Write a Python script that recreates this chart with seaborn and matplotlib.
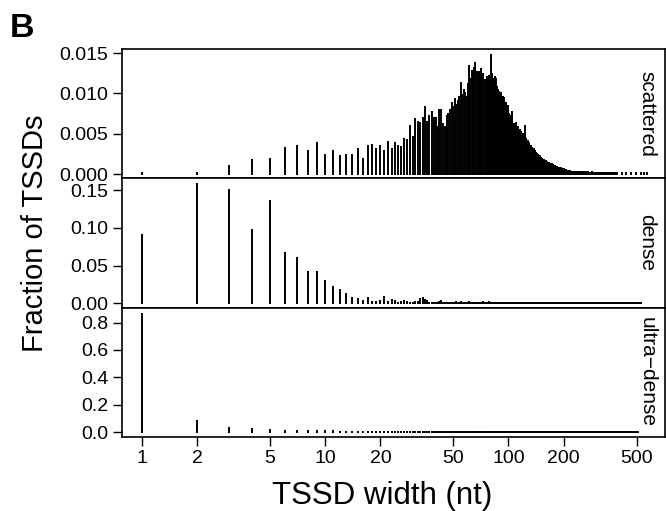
import numpy as np
import matplotlib
matplotlib.use("Agg")
import matplotlib.pyplot as plt
from matplotlib.ticker import NullLocator, FixedLocator, FixedFormatter, FormatStrFormatter
import seaborn as sns

# fraction of TSSDs at each width 1, 2, 3, ... (values in units of 1e-4)
scattered_e4 = [
    1, 1, 10, 18, 19, 32, 35, 29, 39, 24,
    28, 22, 24, 24, 31, 19, 35, 36, 31, 35,
    29, 40, 31, 39, 35, 34, 44, 42, 59, 46,
    68, 65, 63, 69, 83, 65, 72, 77, 69, 70,
    58, 79, 80, 62, 58, 72, 74, 80, 88, 83,
    93, 86, 90, 96, 113, 98, 104, 100, 96, 112,
    134, 118, 128, 125, 132, 138, 126, 124, 127, 122,
    130, 118, 124, 117, 112, 120, 115, 122, 118, 148,
    124, 118, 114, 120, 112, 118, 108, 104, 102, 98,
    100, 92, 96, 90, 94, 86, 88, 80, 84, 76,
    74, 70, 72, 77, 64, 59, 62, 60, 56, 63,
    58, 58, 54, 52, 55, 50, 52, 48, 46, 50,
    44, 47, 59, 42, 44, 40, 41, 36, 38, 36,
    34, 35, 31, 32, 30, 29, 31, 27, 28, 26,
    26, 24, 25, 22, 24, 21, 20, 22, 19, 20,
    18, 19, 19, 17, 18, 17, 16, 16, 15, 16,
    15, 14, 15, 14, 14, 13, 14, 13, 12, 12,
    12, 11, 12, 11, 10, 11, 10, 10, 9, 10,
    9, 9, 9, 8, 9, 8, 8, 7, 8, 7,
    7, 7, 6, 7, 6, 6, 6, 6, 5, 6,
    5, 5, 5, 5, 4, 5, 4, 4, 4, 4,
    4, 4, 4, 3, 4, 4, 3, 3, 3, 3,
    3, 3, 3, 3, 2, 3, 3, 2, 3, 2,
    2, 3, 2, 2, 2, 2, 3, 2, 2, 2,
    2, 2, 2, 1, 2, 2, 2, 1, 2, 2,
    1, 2, 1, 1, 2, 1, 1, 1, 2, 1, 1, 1, 1, 2, 1, 1, 1, 1, 1, 1,
    1, 1, 2, 1, 1, 1, 1, 1, 1, 1, 1, 1, 1, 1, 1, 2, 1, 1, 1, 1,
    1, 1, 1, 1, 1, 1, 0, 1, 1, 1, 1, 1, 1, 1, 1, 0, 1, 1, 1, 1,
    1, 1, 0, 1, 1, 1, 1, 1, 0, 1, 1, 1, 1, 0, 1, 1, 1, 1, 1, 0,
    1, 1, 1, 0, 1, 1, 0, 1, 1, 1, 1, 0, 1, 1, 1, 0, 1, 1, 0, 1,
    1, 1, 0, 1, 1, 0, 1, 1, 1, 0, 1, 0, 1, 1, 0, 1, 1, 0, 1, 1,
    1, 0, 1, 1, 0, 1, 0, 1, 0, 0, 1, 0, 0, 0, 1, 0, 0, 1, 1, 0,
    0, 0, 0, 0, 0, 0, 0, 0, 0, 0, 0, 0, 0, 0, 0, 0, 0, 0, 0, 0,
    0, 0, 0, 1, 1, 1, 0, 0, 0, 0, 0, 0, 0, 0, 0, 0, 0, 0, 0, 0,
    0, 0, 0, 0, 0, 0, 0, 0, 1, 1, 0, 0, 0, 0, 0, 0, 0, 0, 0, 0,
    0, 0, 0, 0, 0, 0, 0, 0, 0, 0, 0, 0, 0, 0, 0, 1, 1, 0, 0, 0,
    0, 0, 0, 0, 0, 0, 0, 0, 0, 0, 0, 0, 0, 0, 0, 0, 0, 0, 0, 0,
    0, 0, 0, 0, 0, 1, 1, 0, 0, 0, 0, 0, 0, 0, 0, 0, 0, 0, 0, 0,
    0, 0, 0, 0, 0, 0, 0, 0, 0, 0, 0, 0, 0, 0, 0, 0, 0, 0, 0, 1,
    0, 0, 0, 0, 0, 0, 0, 0, 0, 0, 0, 0, 0, 0, 0, 1, 0, 0, 0, 0,
    0, 0, 0, 0, 0, 0, 0, 0, 0, 0, 0, 0, 0, 0, 0, 0, 1,
]

dense_e4 = [
    900, 1580, 1500, 966, 1350, 660, 600, 420, 420, 300,
    210, 180, 128, 66, 58, 30, 66, 20, 20, 30,
    90, 15, 40, 35, 10, 20, 35, 15, 10, 10,
    15, 20, 60, 70, 45, 30, 10, 10, 8, 8,
    10, 12, 25, 10, 8, 8, 6, 6, 5, 6,
    8, 20, 8, 6, 18, 6, 5, 5, 5, 5,
    15, 5, 4, 4, 4, 4, 4, 4, 3, 4,
    4, 4, 12, 4, 3, 3, 3, 12, 3, 3,
    3, 3, 3, 3, 3, 2, 3, 3, 2, 3,
    2, 3, 2, 2, 3, 2, 2, 2, 3, 2,
    2, 2, 1, 2, 2, 2, 1, 2, 2, 1, 2, 2, 1, 2, 1, 2, 2, 1, 2, 1,
    2, 1, 2, 1, 2, 1, 1, 2, 1, 2, 1, 2, 1, 1, 2, 1, 2, 1, 1, 2,
    1, 1, 2, 1, 1, 2, 1, 1, 1, 2, 1, 1, 2, 1, 1, 1, 2, 1, 1, 1,
    1, 2, 1, 1, 1, 1, 2, 1, 1, 1, 1, 1, 2, 1, 1, 1, 1, 1, 2, 1,
    1, 1, 1, 1, 2, 1, 1, 1, 1, 1, 1, 2, 1, 1, 1, 1, 1, 1, 1, 2,
    1, 1, 1, 1, 1, 1, 2, 1, 1, 1, 1, 1, 1, 1, 1, 1, 1, 2, 1, 1,
    1, 1, 1, 1, 1, 1, 1, 1, 1, 1, 2, 1, 1, 1, 1, 1, 1, 1, 1, 1,
    1, 1, 1, 1, 1, 1, 1, 1, 2, 1, 1, 1, 1, 1, 1, 1, 1, 1, 1, 1,
    1, 1, 1, 1, 1, 1, 1, 1, 1, 1, 1, 1, 1, 1, 1, 1, 1, 1, 1, 1,
    1, 1, 1, 1, 1, 1, 1, 1, 1, 1, 1, 1, 1, 1, 1, 1, 1, 1, 1, 1,
    1, 1, 1, 1, 1, 1, 1, 1, 1, 1, 1, 1, 1, 1, 1, 1, 1, 1, 1, 1,
    1, 1, 1, 1, 1, 1, 1, 1, 1, 1, 1, 1, 1, 1, 1, 1, 1, 1, 1, 1,
    1, 1, 1, 1, 1, 1, 1, 1, 1, 1, 1, 1, 1, 1, 1, 1, 1, 1, 1, 1,
    1, 1, 1, 1, 1, 1, 1, 1, 1, 1, 1, 1, 1, 1, 1, 1, 1, 1, 1, 1,
    1, 1, 1, 1, 1, 1, 1, 1, 1, 1, 1, 1, 1, 1, 1, 1, 1, 1, 1, 1,
    1, 1, 1, 1, 1, 1, 1, 1, 1, 1, 1, 1, 1, 1, 1, 1, 1, 1, 1, 1,
    1, 1, 1, 1, 1, 1, 1, 1, 1, 1, 1, 1, 1, 1, 1, 1, 1, 1, 1, 1,
    1, 1, 1, 1, 1, 1, 1, 1, 1, 1, 1, 1, 1, 1, 1, 1, 1, 1, 1, 1,
    1, 1, 1, 1, 1, 1, 1, 1, 1, 1, 1, 1, 1, 1, 1, 1, 1, 1, 1, 1,
    1, 1, 1, 1, 1, 1, 1, 1, 1, 1, 1, 1, 1, 1, 1, 1, 1, 1, 1, 1,
    1, 1, 1, 1, 1, 1, 1, 1, 1, 1, 1, 1, 1, 1, 1, 1, 1, 1, 1, 1,
    1, 1, 1, 1, 1, 1, 1,
]

ultra_dense_e4 = [
    8650, 780, 280, 230, 160, 100, 80, 70, 60, 50,
    45, 42, 38, 35, 33, 30, 28, 26, 25, 24,
    22, 21, 20, 19, 18, 17, 16, 15, 15, 14,
    13, 13, 12, 12, 11, 11, 10, 10, 9, 9,
    9, 8, 8, 8, 7, 7, 7, 7, 6, 6,
    6, 6, 6, 5, 5, 5, 5, 5, 5, 4,
    4, 4, 4, 4, 4, 4, 4, 3, 3, 3,
    3, 3, 3, 3, 3, 3, 3, 3, 3, 3,
    2, 3, 2, 3, 2, 2, 3, 2, 2, 2,
    2, 2, 2, 2, 2, 2, 2, 2, 2, 2,
    2, 2, 2, 2, 2, 2, 2, 2, 2, 2, 2, 2, 2, 2, 2, 2, 2, 2, 2, 2,
    2, 2, 2, 2, 2, 2, 2, 2, 2, 2, 1, 2, 2, 2, 2, 2, 2, 2, 2, 2,
    2, 2, 1, 2, 2, 2, 2, 1, 2, 2, 2, 2, 2, 1, 2, 2, 2, 2, 1, 2,
    2, 1, 2, 2, 1, 2, 2, 1, 2, 2, 1, 2, 2, 1, 2, 1, 2, 1, 2, 1,
    2, 1, 2, 1, 1, 2, 1, 2, 1, 1, 2, 1, 1, 2, 1, 1, 2, 1, 1, 1,
    2, 1, 1, 1, 1, 2, 1, 1, 1, 1, 1, 2, 1, 1, 1, 1, 1, 1, 2, 1,
    1, 1, 1, 1, 1, 1, 1, 2, 1, 1, 1, 1, 1, 1, 1, 1, 1, 1, 1, 1,
    1, 1, 1, 1, 1, 1, 1, 1, 1, 1, 1, 1, 1, 1, 1, 1, 1, 1, 1, 1,
    1, 1, 1, 1, 1, 1, 1, 1, 1, 1, 1, 1, 1, 1, 1, 1, 1, 1, 1, 1,
    1, 1, 1, 1, 1, 1, 1, 1, 1, 1, 1, 1, 1, 1, 1, 1, 1, 1, 1, 1,
    1, 1, 1, 1, 1, 1, 1, 1, 1, 1, 1, 1, 1, 1, 1, 1, 1, 1, 1, 1,
    1, 1, 1, 1, 1, 1, 1, 1, 1, 1, 1, 1, 1, 1, 1, 1, 1, 1, 1, 1,
    1, 1, 1, 1, 1, 1, 1, 1, 1, 1, 1, 1, 1, 1, 1, 1, 1, 1, 1, 1,
    1, 1, 1, 1, 1, 1, 1, 1, 1, 1, 1, 1, 1, 1, 1, 1, 1, 1, 1, 1,
    1, 1, 1, 1, 1, 1, 1, 1, 1, 1, 1, 1, 1, 1, 1, 1, 1, 1, 1, 1,
    1, 1, 1, 1, 1, 1, 1, 1, 1, 1, 1, 1, 1, 1, 1, 1, 1, 1, 1, 1,
    1, 1, 1, 1, 1, 1, 1, 1, 1, 1, 1, 1, 1, 1, 1, 1, 1, 1, 1, 1,
    1, 1, 1, 1, 1, 1, 1, 1, 1, 1, 1, 1, 1, 1, 1, 1, 1, 1, 1, 1,
    1, 1, 1, 1, 1, 1, 1, 1, 1, 1, 1, 1, 1, 1, 1, 1, 1, 1, 1, 1,
    1, 1, 1, 1, 1, 1, 1, 1, 1, 1, 1, 1, 1, 1, 1, 1, 1, 1, 1, 1,
    1, 1, 1, 1, 1, 1, 1,
]

panel_names = ["scattered", "dense", "ultra\u2212dense"]
panel_series = [scattered_e4, dense_e4, ultra_dense_e4]
y_ticks = [[0.0, 0.005, 0.010, 0.015], [0.0, 0.05, 0.10, 0.15], [0.0, 0.2, 0.4, 0.6, 0.8]]
y_formats = ["%.3f", "%.2f", "%.1f"]
y_limits = [(-0.00053, 0.0155), (-0.0058, 0.1655), (-0.036, 0.909)]
x_ticks = [1, 2, 5, 10, 20, 50, 100, 200, 500]

sns.set_theme(style="ticks", rc={
    "axes.edgecolor": "black",
    "axes.linewidth": 1.2,
    "xtick.color": "black",
    "ytick.color": "black",
    "text.color": "black",
})
plt.rcParams["font.family"] = ["Liberation Sans", "DejaVu Sans"]

W, H = 666, 511
fig = plt.figure(figsize=(W / 100, H / 100), dpi=100)

top_px, bottom_px = 49, 437
panel_h = (bottom_px - top_px) / 3
bar_lw = 1.4                        # points
cap_px = bar_lw * 100 / 72 / 2      # half line width, like R's round line ends

for i, (name, series) in enumerate(zip(panel_names, panel_series)):
    y0 = 1 - (top_px + (i + 1) * panel_h) / H
    ax = fig.add_axes([122 / W, y0, 543 / W, panel_h / H])

    vals = np.array(series, dtype=float) * 1e-4
    widths = np.arange(1, len(vals) + 1)
    keep = vals > 0
    lo, hi = y_limits[i]
    cap = cap_px * (hi - lo) / panel_h
    ax.vlines(widths[keep], -cap, vals[keep] + cap, color="black", lw=bar_lw,
              capstyle="butt")

    ax.set_xscale("log")
    ax.set_xlim(0.777, 715)
    ax.set_ylim(lo, hi)
    ax.xaxis.set_minor_locator(NullLocator())
    ax.xaxis.set_major_locator(FixedLocator(x_ticks))
    ax.xaxis.set_major_formatter(FixedFormatter([str(t) for t in x_ticks]))
    ax.set_yticks(y_ticks[i])
    ax.yaxis.set_major_formatter(FormatStrFormatter(y_formats[i]))
    ax.tick_params(axis="both", direction="out", length=6.5, width=1.0,
                   labelsize=14, colors="black")
    ax.tick_params(axis="y", pad=3.5)
    ax.tick_params(axis="x", pad=3)
    if i < 2:
        ax.tick_params(axis="x", bottom=False, labelbottom=False)
    for sp in ax.spines.values():
        sp.set_linewidth(1.2)
        sp.set_color("black")

    ax.text((647 - 122) / 543, 0.5, name, rotation=-90, ha="center", va="center",
            fontsize=15, transform=ax.transAxes)

fig.text(35 / W, 1 - 233 / H, "Fraction of TSSDs", rotation=90,
         ha="center", va="center", fontsize=21)
fig.text(382 / W, (H - 504) / H, "TSSD width (nt)", ha="center", va="baseline",
         fontsize=22.5)
fig.text(10 / W, 1 - 37 / H, "B", ha="left", va="baseline", fontsize=24.5,
         fontweight="bold")

fig.savefig("out.png", dpi=100)
